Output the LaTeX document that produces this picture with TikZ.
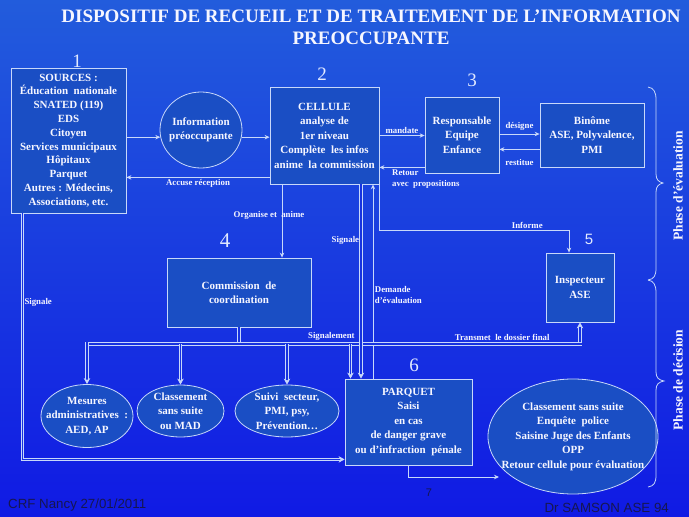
\documentclass[tikz,border=0pt]{standalone}
\usepackage{fontspec}
\setmainfont{Liberation Serif}
\setsansfont{Liberation Sans}
\usetikzlibrary{arrows.meta, positioning, shapes.geometric}

\definecolor{bgtop}{RGB}{34,92,220}
\definecolor{bgbot}{RGB}{16,26,228}
\definecolor{bgmid}{RGB}{22,50,224}
\definecolor{boxblue}{RGB}{26,78,196}
\definecolor{rim}{RGB}{200,216,250}
\definecolor{ink}{RGB}{246,246,255}
\definecolor{numclr}{RGB}{226,234,255}
\definecolor{navy}{RGB}{22,22,80}

\begin{document}
\begin{tikzpicture} [x=1pt, y=-1pt,
    card/.style={draw=rim, fill=boxblue, line width=0.8pt, text=ink, align=center,
        font=\bfseries\fontsize{11}{14.5}\selectfont, inner sep=2pt},
    bubble/.style={draw=rim, fill=boxblue, line width=0.8pt, ellipse, inner sep=0pt},
    inbub/.style={text=ink, align=center, font=\bfseries\fontsize{11}{14.5}\selectfont, inner sep=0pt},
    tag/.style={text=ink, font=\bfseries\fontsize{8.8}{11}\selectfont, inner sep=1.5pt},
    phase/.style={text=ink, font=\bfseries\fontsize{13.5}{15}\selectfont, rotate=90},
    num/.style={text=numclr, font=\fontsize{19}{19}\selectfont, inner sep=0pt},
    link/.style={draw=rim, line width=0.8pt, -{Stealth[length=5pt,width=4.5pt]}},
    dbl/.style={draw=rim, line width=0.8pt, double=bgmid, double distance=1.6pt,
        -{Stealth[length=6pt,width=6.5pt]}}]

% background
\fill [top color=bgtop, bottom color=bgbot] (0,0) rectangle (689,517);
\useasboundingbox (0,0) rectangle (689,517);

\node (title) [text=ink, align=center, font=\bfseries\fontsize{19}{22}\selectfont] at (371,27)
    {DISPOSITIF DE RECUEIL ET DE TRAITEMENT DE L’INFORMATION\\PREOCCUPANTE};

% boxes
\node (src) [card, minimum width=115, minimum height=145, font=\bfseries\fontsize{11}{13.8}\selectfont] at (68.5,140.5)
    {SOURCES :\\Éducation\ \ nationale\\SNATED (119)\\EDS\\Citoyen\\Services municipaux\\Hôpitaux\\Parquet\\Autres : Médecins,\\Associations, etc.};
\node (info) [bubble, minimum width=82, minimum height=76,
    label={[inbub]center:{Information\\préoccupante}}] at (201,130) {};
\node (cel) [card, minimum width=109, minimum height=97] at (324.5,135.5)
    {CELLULE\\analyse de\\1er niveau\\Complète\ \ les infos\\anime\ \ la commission};
\node (resp) [card, minimum width=74, minimum height=76] at (462,135)
    {Responsable\\Equipe\\Enfance};
\node (bin) [card, minimum width=104, minimum height=64] at (592,135)
    {Binôme\\ASE, Polyvalence,\\PMI};
\node (com) [card, minimum width=144, minimum height=69] at (239,292.5)
    {Commission\ \ de\\coordination};
\node (insp) [card, minimum width=68, minimum height=69] at (580,287.5)
    {Inspecteur\\ASE};
\node (mes) [bubble, minimum width=92, minimum height=63,
    label={[inbub]center:{Mesures\\administratives\ \ :\\AED, AP}}] at (87,416) {};
\node (cls) [bubble, minimum width=87, minimum height=52,
    label={[inbub]center:{Classement\\sans suite\\ou MAD}}] at (180.5,411) {};
\node (sui) [bubble, minimum width=104, minimum height=52,
    label={[inbub]center:{Suivi\ \ secteur,\\PMI, psy,\\Prévention…}}] at (287,411) {};
\node (par) [card, minimum width=127, minimum height=86] at (408.5,422)
    {PARQUET\\Saisi\\en cas\\de danger grave\\ou d’infraction\ \ pénale};
\node (big) [bubble, minimum width=170, minimum height=115,
    label={[inbub]center:{Classement sans suite\\Enquête\ \ police\\Saisine Juge des Enfants\\OPP\\Retour cellule pour évaluation}}] at (573,436.5) {};

% step numbers
\node (n1) [num] at (77,61) {1};
\node (n2) [num] at (322,74.5) {2};
\node (n3) [num] at (472,80) {3};
\node (n4) [num, font=\fontsize{21}{21}\selectfont] at (225,241) {4};
\node (n5) [num, font=\sffamily\fontsize{15}{15}\selectfont] at (589,239) {5};
\node (n6) [num] at (414,365) {6};

\coordinate (bus) at (0,344);
\coordinate (bigin) at (499,477);

% connectors
\draw [link] (src.east |- info.190) -- (info.190);
\draw [link] (info.350) -- (info.350 -| cel.west);
\draw [link] ([yshift=7pt]cel.south west) -- node [tag, below] {Accuse réception} ([yshift=7pt]cel.south west -| src.east);
\draw [link] (cel.east) -- node [tag, above] {mandate} (cel.east -| resp.west);
\draw [link] ([yshift=6pt]resp.south west) -- node [tag, pos=0.76, anchor=north west, align=left] {Retour\\avec\ \ propositions} ([yshift=6pt]resp.south west -| cel.east);
\draw [link] ([yshift=1pt]resp.east) -- node [tag, above, yshift=2pt] {désigne} ([yshift=1pt]resp.east -| bin.west);
\draw [link] ([yshift=18pt]bin.south west) -- node [tag, below, yshift=-8pt] {restitue} ([yshift=18pt]bin.south west -| resp.east);
\draw [link] ([xshift=-42.5pt]cel.south) -- node [tag, pos=0.43, xshift=-13pt] {Organise et\ \ anime} ([xshift=-42.5pt]cel.south |- com.north);
\draw [link] (cel.south east) -- ++(0,46) -| node [tag, above, pos=0.39] {Informe} ([xshift=-11pt]insp.north);
\draw [link] ([xshift=48.5pt]cel.south |- par.north) -- node [tag, right, pos=0.43, align=left] {Demande\\d’évaluation} ([xshift=48.5pt]cel.south);
\draw [link] (par.south) |- (bigin);

% signalement bus
\draw [dbl, -] (com.south) -- (com.south |- bus);
\draw [dbl, -] ([xshift=-1.6pt]mes.north |- bus) -- node [tag, above, pos=0.84, yshift=1.5pt] {Transmet\ \ le dossier final} ([xshift=1.6pt]insp.south |- bus);
\draw [dbl] ([yshift=1.6pt]mes.north |- bus) -- (mes.north);
\draw [dbl] ([yshift=1.6pt]insp.south |- bus) -- (insp.south);
\draw [dbl] (cls.north |- bus) -- (cls.north);
\draw [dbl] (sui.north |- bus) -- (sui.north);
\draw [dbl] ([xshift=-58pt]par.north |- bus) node [tag, anchor=south east, xshift=6pt, yshift=1.5pt] {Signalement} -- ([xshift=-58pt]par.north);
\draw [dbl] ([xshift=36.5pt]cel.south) -- node [tag, left, pos=0.29] {Signale} ([xshift=36.5pt]cel.south |- par.north);
\draw [dbl] ([xshift=12pt]src.south west) |- node [tag, right, pos=0.18] {Signale} ([yshift=6pt]par.south west);

% phase braces
\draw [rim, line width=0.8pt] (648,87) .. controls (654,88) and (656,92) .. (656,100) -- (656,174)
    .. controls (656,180) and (659,182) .. (663,183) .. controls (659,184) and (656,186) .. (656,192)
    -- (656,268) .. controls (656,276) and (654,279) .. (648,280);
\draw [rim, line width=0.8pt] (648,280) .. controls (654,281) and (656,285) .. (656,293) -- (656,372)
    .. controls (656,378) and (659,380) .. (664,381) .. controls (659,382) and (656,384) .. (656,390)
    -- (656,475) .. controls (656,483) and (654,486) .. (648,487);
\node (ph1) [phase] at (678,186) {Phase d’évaluation};
\node (ph2) [phase] at (678,380) {Phase de décision};

% footer
\node (crf) [anchor=base west, inner sep=0pt, text=navy, font=\sffamily\fontsize{13.3}{14}\selectfont] at (8,508) {CRF Nancy 27/01/2011};
\node (auth) [anchor=base east, inner sep=0pt, text=navy, font=\sffamily\fontsize{13.3}{14}\selectfont] at (669,512) {Dr SAMSON ASE 94};
\node (n7) [inner sep=0pt, text=navy, font=\sffamily\fontsize{11}{11}\selectfont] at (429,493) {7};
\end{tikzpicture}
\end{document}
